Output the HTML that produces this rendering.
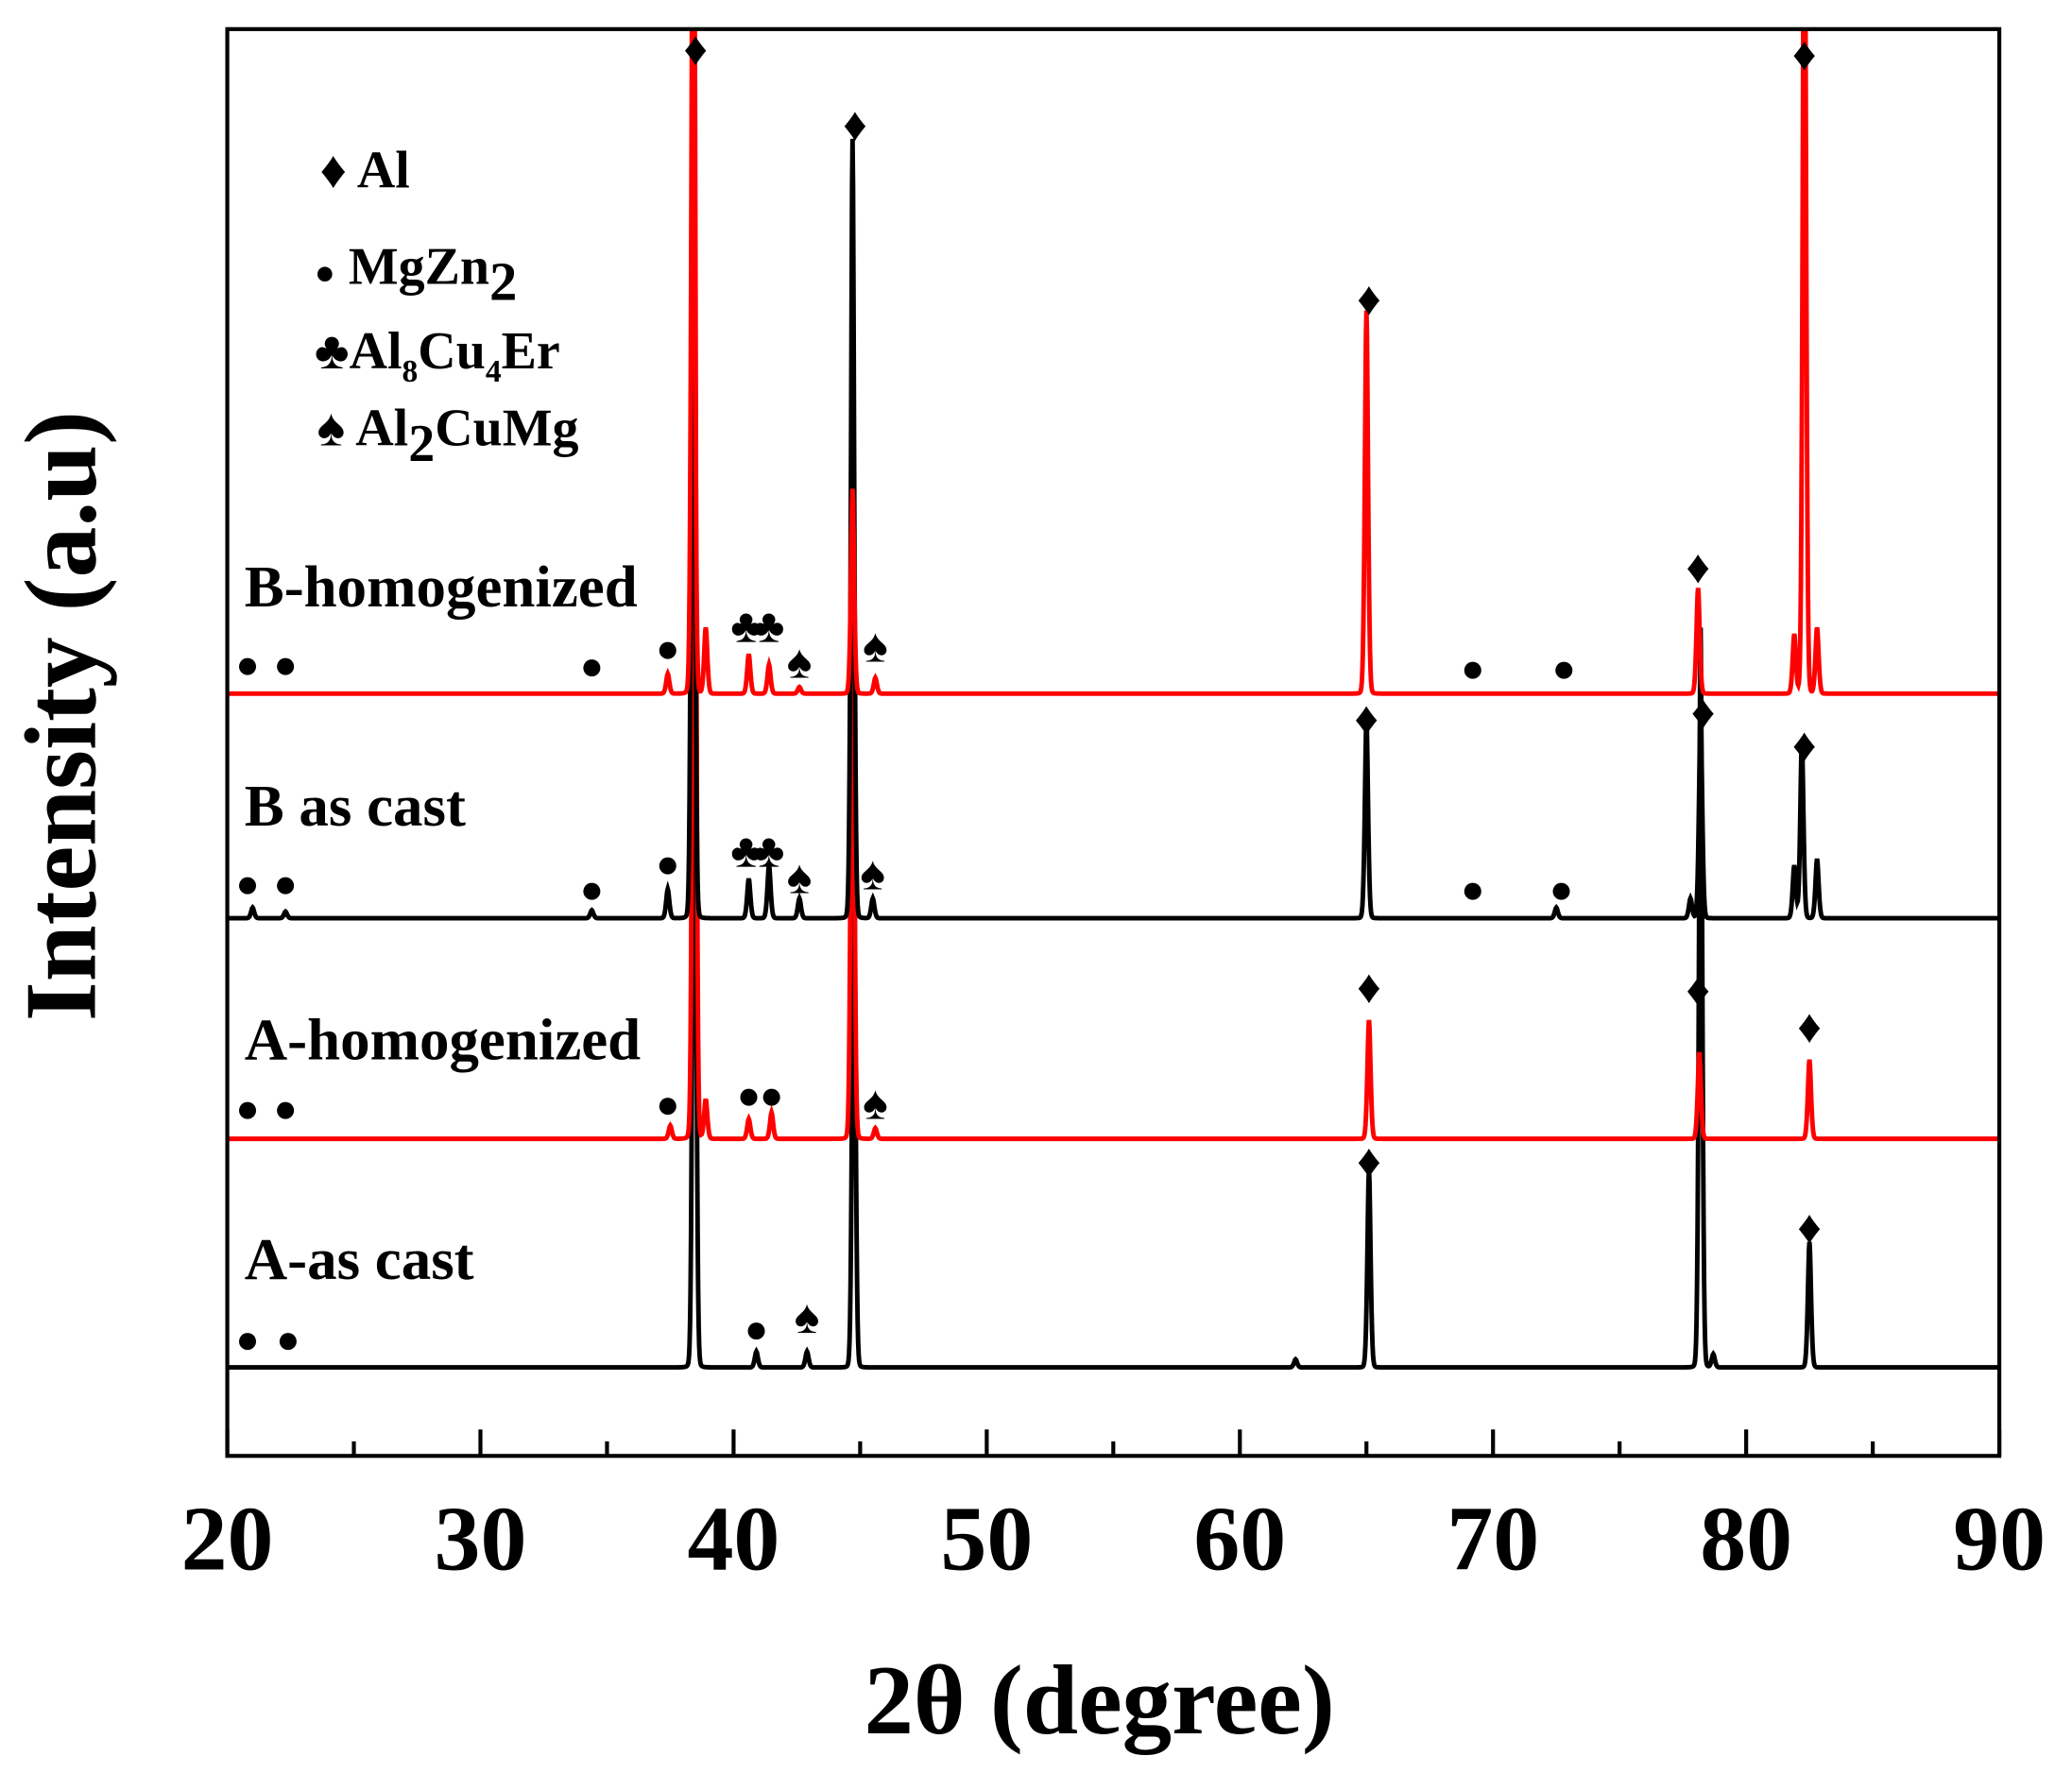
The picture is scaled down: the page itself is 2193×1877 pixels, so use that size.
<!DOCTYPE html>
<html><head><meta charset="utf-8"><style>
html,body{margin:0;padding:0;background:#fff;}
svg{display:block;}
text{font-family:"Liberation Serif",serif;font-weight:bold;fill:#000;}
</style></head><body>
<svg id="chart" width="2193" height="1877" viewBox="0 0 1568 1342" xmlns="http://www.w3.org/2000/svg">
<defs><clipPath id="plotclip"><rect x="172" y="22" width="1341" height="1080"/></clipPath></defs>
<rect x="0" y="0" width="1568" height="1342" fill="#fff"/>
<g id="series" clip-path="url(#plotclip)"></g>
<g id="markers"></g>
<rect x="172" y="22" width="1341" height="1080" fill="none" stroke="#000" stroke-width="3"/>
<g id="ticks"></g>
<text x="832" y="1312" font-size="75" text-anchor="middle">2θ (degree)</text>
<text transform="translate(72,542) rotate(-90)" font-size="77" text-anchor="middle">Intensity (a.u)</text>
<g>
<text x="242" y="142" font-size="40">♦ Al</text>
<text x="238" y="215" font-size="40"><tspan font-size="26">●</tspan> MgZn<tspan font-size="42" dy="12">2</tspan></text>
<text x="238" y="279" font-size="40">♣Al<tspan font-size="24" dy="10">8</tspan><tspan dy="-10">Cu</tspan><tspan font-size="24" dy="10">4</tspan><tspan dy="-10">Er</tspan></text>
<text x="240" y="337" font-size="40">♠ Al<tspan dy="12">2</tspan><tspan dy="-12">CuMg</tspan></text>
</g>
<text x="185" y="459" font-size="45">B-homogenized</text>
<text x="185" y="625" font-size="45">B as cast</text>
<text x="185" y="802" font-size="45">A-homogenized</text>
<text x="185" y="968" font-size="45">A-as cast</text>
</svg>
<script>
const xTicks=[20,30,40,50,60,70,80,90];
const minorTicks=[25,35,45,55,65,75,85];
const seriesNames=["a-as-cast","a-homogenized","b-as-cast","b-homogenized"];
const seriesColors=["#000","#f00","#000","#f00"];
const baselines=[1035,862,695,525];
const aCastPos=[38.45,44.75,65.1,78.2,82.5,40.9,42.9,62.2,78.7];
const aCastH=[700,420,150,560,95,12,12,6,10];
const aHomPos=[38.45,44.7,65.1,78.15,82.5,37.5,38.9,40.6,41.5,45.6];
const aHomH=[900,500,90,65,60,10,30,15,20,8];
const bCastPos=[38.4,44.7,65.0,78.2,82.2,81.9,82.8,37.4,40.6,41.4,42.6,45.5,77.8,21.0,22.3,34.4,72.5];
const bCastH=[800,590,150,155,135,40,45,22,30,40,15,15,15,8,5,6,8];
const bHomPos=[38.4,44.7,65.0,78.1,82.3,81.9,82.8,37.4,38.9,40.6,41.4,45.6,42.6];
const bHomH=[700,155,290,80,700,45,50,15,50,30,22,12,5];
const allPos=[aCastPos,aHomPos,bCastPos,bHomPos];
const allH=[aCastH,aHomH,bCastH,bHomH];
const markerX=[38.5,44.8,65.1,78.1,82.3, 20.8,22.3,34.4,37.4,40.5,41.4,42.6,45.6,69.2,72.8, 65.0,78.3,82.3,20.8,22.3,34.4,37.4,40.5,41.4,42.6,45.5,69.2,72.7, 65.1,78.1,82.5,20.8,22.3,37.4,40.6,41.5,45.6, 65.1,82.5,20.8,22.4,40.9,42.9];
const markerY=[38,95,227,430,42, 502,502,503,490,475,475,502,490,505,505, 545,540,565,668,668,672,653,645,645,665,662,672,672, 748,750,778,838,838,835,828,828,836, 880,930,1013,1013,1005,998];
const markerSym=["♦","♦","♦","♦","♦","●","●","●","●","♣","♣","♠","♠","●","●","♦","♦","♦","●","●","●","●","♣","♣","♠","♠","●","●","♦","♦","♦","●","●","●","●","●","♠","♦","♦","●","●","●","♠"];
const X0=172,X1=1513;
function xs(v){return X0+(v-20)/(90-20)*(X1-X0);}
const NS="http://www.w3.org/2000/svg";
const tg=document.getElementById('ticks');
xTicks.forEach(v=>{
 const l=document.createElementNS(NS,'line');
 
 
 l.setAttribute('x1',xs(v));l.setAttribute('x2',xs(v));l.setAttribute('y1',1102);l.setAttribute('y2',1082);
 l.setAttribute('stroke','#000');l.setAttribute('stroke-width',3);tg.appendChild(l);
 const t=document.createElementNS(NS,'text');
 
 
 t.setAttribute('x',xs(v));t.setAttribute('y',1188);t.setAttribute('font-size',70);t.setAttribute('text-anchor','middle');
 t.textContent=v;tg.appendChild(t);
});
minorTicks.forEach(v=>{
 const l=document.createElementNS(NS,'line');
 
 
 l.setAttribute('x1',xs(v));l.setAttribute('x2',xs(v));l.setAttribute('y1',1102);l.setAttribute('y2',1091);
 l.setAttribute('stroke','#000');l.setAttribute('stroke-width',3);tg.appendChild(l);
});
const sg=document.getElementById('series');
for(let s=0;s<4;s++){
 const pos=allPos[s],h=allH[s];let d='';
 for(let x=20;x<=90.001;x+=0.02){
  let y=0;
  for(let k=0;k<pos.length;k++){
   const dx=(x-pos[k]);
   const g=Math.exp(-dx*dx/(2*0.07*0.07));
   const l=1/(1+(dx/0.08)*(dx/0.08));
   y+=h[k]*(0.7*g+0.3*l*l);
  }
  d+=(d?'L':'M')+xs(x).toFixed(2)+' '+(baselines[s]-y).toFixed(2);
 }
 const p=document.createElementNS(NS,'path');
 
 
 p.setAttribute('d',d);p.setAttribute('fill','none');p.setAttribute('stroke',seriesColors[s]);p.setAttribute('stroke-width',3.5);
 sg.appendChild(p);
}
const mg=document.getElementById('markers');
markerX.forEach((v,i)=>{
 const t=document.createElementNS(NS,'text');
 
 
 t.setAttribute('x',xs(v));t.setAttribute('y',markerY[i]+11);
 t.setAttribute('font-size',markerSym[i]==='●'?30:36);t.setAttribute('text-anchor','middle');
 t.textContent=markerSym[i];mg.appendChild(t);
});
</script>
</body></html>
